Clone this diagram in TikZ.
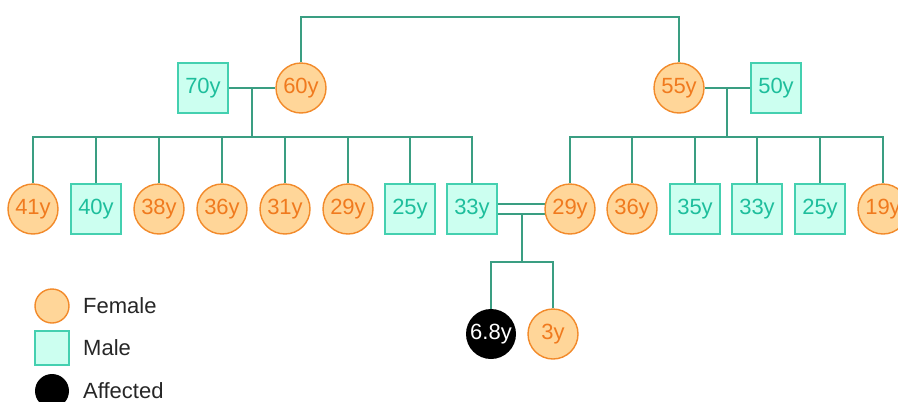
\documentclass[tikz,border=0pt]{standalone}
\usepackage{fontspec}
\setmainfont{Liberation Sans}
\usetikzlibrary{backgrounds}
\definecolor{femfill}{HTML}{FFD699}
\definecolor{femline}{HTML}{F28A2A}
\definecolor{femtext}{HTML}{F07A1E}
\definecolor{malefill}{HTML}{CCFFF0}
\definecolor{maleline}{HTML}{44D0B0}
\definecolor{maletext}{HTML}{1EBE9C}
\definecolor{link}{HTML}{3A9E82}
\tikzset{
  fem/.style={circle, draw=femline, fill=femfill, text=femtext, line width=1.4pt,
    minimum size=50pt, inner sep=0pt, font=\fontsize{22}{22}\selectfont},
  male/.style={rectangle, draw=maleline, fill=malefill, text=maletext, line width=1.4pt,
    minimum size=50pt, inner sep=0pt, font=\fontsize{22}{22}\selectfont},
  affected/.style={circle, fill=black, text=white,
    minimum size=50pt, inner sep=0pt, font=\fontsize{22}{22}\selectfont},
  legtext/.style={anchor=west, inner sep=0pt, text=black!85, font=\fontsize{22}{22}\selectfont},
  tie/.style={draw=link, line width=1.4pt}
}
\begin{document}
\begin{tikzpicture}[x=1pt,y=-1pt]
\useasboundingbox (0,0) rectangle (898,402);
\clip (0,0) rectangle (898,402);

% grandparents
\node[male] (g70) at (203,88) {70y};
\node[fem]  (g60) at (301,88) {60y};
\node[fem]  (g55) at (679,88) {55y};
\node[male] (g50) at (776,88) {50y};

% left sibship
\node[fem]  (a41) at (33,209)  {41y};
\node[male] (a40) at (96,209)  {40y};
\node[fem]  (a38) at (159,209) {38y};
\node[fem]  (a36) at (222,209) {36y};
\node[fem]  (a31) at (285,209) {31y};
\node[fem]  (a29) at (348,209) {29y};
\node[male] (a25) at (410,209) {25y};
\node[male] (a33) at (472,209) {33y};

% right sibship
\node[fem]  (b29) at (570,209) {29y};
\node[fem]  (b36) at (632,209) {36y};
\node[male] (b35) at (695,209) {35y};
\node[male] (b33) at (757,209) {33y};
\node[male] (b25) at (820,209) {25y};
\node[fem]  (b19) at (883,209) {19y};

% children
\node[affected] (c68) at (491,334) {6.8y};
\node[fem]      (c3)  at (553,334) {3y};

% legend
\node[fem, minimum size=34pt] (lf) at (52,306) {};
\node[legtext] (lft) at (83,306) {Female};
\node[male, minimum size=34pt] (lm) at (52,348) {};
\node[legtext] (lmt) at (83,348) {Male};
\node[affected, minimum size=34pt] (la) at (52,391) {};
\node[legtext] (lat) at (83,391) {Affected};

\begin{scope}[on background layer]
  % link between the two grandparent couples
  \draw[tie] (g60.north) -- (g60.north |- 0,17) -| (g55.north);

  % left couple and its children
  \draw[tie] (g70.east) -- (g60.west);
  \coordinate (m1) at (252,88);
  \coordinate (s1) at (252,137);
  \draw[tie] (m1) -- (s1);
  \foreach \k in {a41,a40,a38,a36,a31,a29,a25,a33}
    \draw[tie] (\k.north) |- (s1);

  % right couple and its children
  \draw[tie] (g55.east) -- (g50.west);
  \coordinate (m2) at (727,88);
  \coordinate (s2) at (727,137);
  \draw[tie] (m2) -- (s2);
  \foreach \k in {b29,b36,b35,b33,b25,b19}
    \draw[tie] (\k.north) |- (s2);

  % consanguineous marriage and offspring
  \draw[tie] ([yshift=-5pt]a33.east) -- ([yshift=-5pt]b29.center);
  \draw[tie] ([yshift=5pt]a33.east) -- ([yshift=5pt]b29.center);
  \coordinate (m3) at (522,214);
  \coordinate (s3) at (522,262);
  \draw[tie] (m3) -- (s3);
  \draw[tie] (c68.north) |- (s3);
  \draw[tie] (c3.north) |- (s3);
\end{scope}
\end{tikzpicture}
\end{document}
